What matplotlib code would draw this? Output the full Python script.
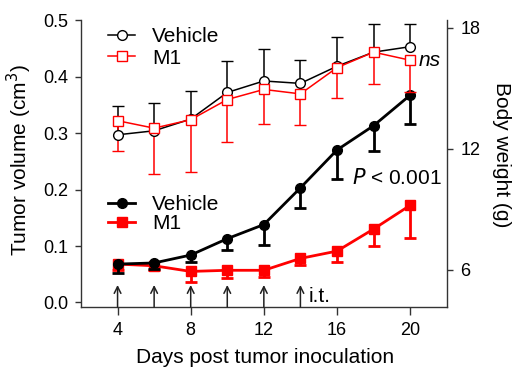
import numpy as np
import matplotlib
matplotlib.use('Agg')
import matplotlib.pyplot as plt

plt.rcParams['font.family'] = ['Liberation Sans', 'DejaVu Sans']

days = [4, 6, 8, 10, 12, 14, 16, 18, 20]
arrow_days = [4, 6, 8, 10, 12, 14]

# tumor volume (left axis), error shown downward
veh_tv = [0.068, 0.070, 0.084, 0.113, 0.138, 0.203, 0.270, 0.313, 0.367]
veh_tv_err = [0.015, 0.010, 0.012, 0.020, 0.036, 0.036, 0.051, 0.044, 0.051]
m1_tv = [0.068, 0.065, 0.055, 0.057, 0.057, 0.078, 0.091, 0.130, 0.172]
m1_tv_err = [0.010, 0.008, 0.018, 0.014, 0.012, 0.012, 0.019, 0.030, 0.058]

# body weight (right axis), vehicle error up, M1 error down
veh_bw = [12.70, 12.90, 13.48, 14.80, 15.37, 15.25, 16.10, 16.80, 17.07]
veh_bw_err = [1.45, 1.40, 1.40, 1.55, 1.60, 1.15, 1.45, 1.40, 1.13]
m1_bw = [13.40, 13.03, 13.45, 14.45, 14.95, 14.73, 16.03, 16.80, 16.40]
m1_bw_err = [1.50, 2.25, 2.60, 2.10, 1.70, 1.53, 1.50, 1.60, 1.60]

RED = '#ff0000'


def one_sided(ax, x, y, err, down, **kw):
    err = np.array(err)
    z = np.zeros_like(err)
    yerr = [err, z] if down else [z, err]
    c = ax.errorbar(x, y, yerr=yerr, **kw)
    # drop the cap sitting on the point itself
    for cl in c[1]:
        if np.allclose(cl.get_ydata(), y):
            cl.remove()
    return c[0]


fig = plt.figure(figsize=(5.28, 3.81), dpi=100)
ax = fig.add_axes([0.1534, 0.1942, 0.6926, 0.7531])
ax2 = ax.twinx()

h_m1 = one_sided(ax, days, m1_tv, m1_tv_err, True, color=RED, marker='s', ms=7,
                 lw=2, elinewidth=2, capsize=4, capthick=2, zorder=3)
h_veh = one_sided(ax, days, veh_tv, veh_tv_err, True, color='black', marker='o', ms=7,
                  lw=2, elinewidth=2, capsize=4, capthick=2, zorder=4)

h_veh2 = one_sided(ax2, days, veh_bw, veh_bw_err, False, color='black', marker='o', ms=7,
                   mfc='white', mew=1, lw=1.1, elinewidth=1.1, capsize=4, capthick=1.1)
h_m12 = one_sided(ax2, days, m1_bw, m1_bw_err, True, color=RED, marker='s', ms=7,
                  mfc='white', mew=1, lw=1.1, elinewidth=1.1, capsize=4, capthick=1.1)

# injection arrows
for d in arrow_days:
    ax.annotate('', xy=(d, 0.031), xytext=(d, -0.008),
                arrowprops=dict(arrowstyle='->', lw=1.1, color='#222222',
                                shrinkA=0, shrinkB=0, mutation_scale=12))
ax.text(14.45, 0.011, 'i.t.', fontsize=15, va='center', ha='left')

ax.text(16.8, 0.22, '$\\it{P}$ < 0.001', fontsize=15, va='center', ha='left')
ax2.text(20.45, 16.4, 'ns', fontsize=15, style='italic', va='center', ha='left')

ax.set_xlim(2, 22)
ax.set_ylim(-0.008, 0.5)
ax2.set_ylim(4.16, 18.39)
ax.set_xticks([4, 8, 12, 16, 20])
ax.set_yticks([0.0, 0.1, 0.2, 0.3, 0.4, 0.5])
ax.set_yticklabels(['0.0', '0.1', '0.2', '0.3', '0.4', '0.5'])
ax2.set_yticks([6, 12, 18])

for a in (ax, ax2):
    a.spines['top'].set_visible(False)
    for s in a.spines.values():
        s.set_linewidth(1.0)
        s.set_color('#333333')
ax.spines['right'].set_visible(False)
ax2.spines['left'].set_visible(False)
ax2.spines['bottom'].set_visible(False)

ax.tick_params(axis='x', length=6, width=1, pad=5, labelsize=13, color='#333333')
ax.tick_params(axis='y', length=4, width=1, pad=5, labelsize=13, color='#333333')
ax2.tick_params(axis='y', length=4, width=1, pad=6, labelsize=13, color='#333333')

ax.set_xlabel('Days post tumor inoculation', fontsize=15)
ax.set_ylabel('Tumor volume (cm$^3$)', fontsize=15)
ax2.set_ylabel('Body weight (g)', fontsize=15, rotation=270, va='center')
ax.xaxis.set_label_coords(0.502, -0.143)
ax.yaxis.set_label_coords(-0.128, 0.511)
ax2.yaxis.set_label_coords(1.151, 0.531)

leg1 = ax2.legend([h_veh2, h_m12], ['Vehicle', 'M1'], loc='upper left',
                  bbox_to_anchor=(0.074, 0.975), frameon=False, fontsize=15,
                  handlelength=1.3, handletextpad=0.8, labelspacing=0.12,
                  borderpad=0, borderaxespad=0)
leg2 = ax.legend([h_veh, h_m1], ['Vehicle', 'M1'], loc='upper left',
                 bbox_to_anchor=(0.074, 0.39), frameon=False, fontsize=15,
                 handlelength=1.3, handletextpad=0.8, labelspacing=0.0,
                 borderpad=0, borderaxespad=0)

fig.savefig('out.png', dpi=100)
